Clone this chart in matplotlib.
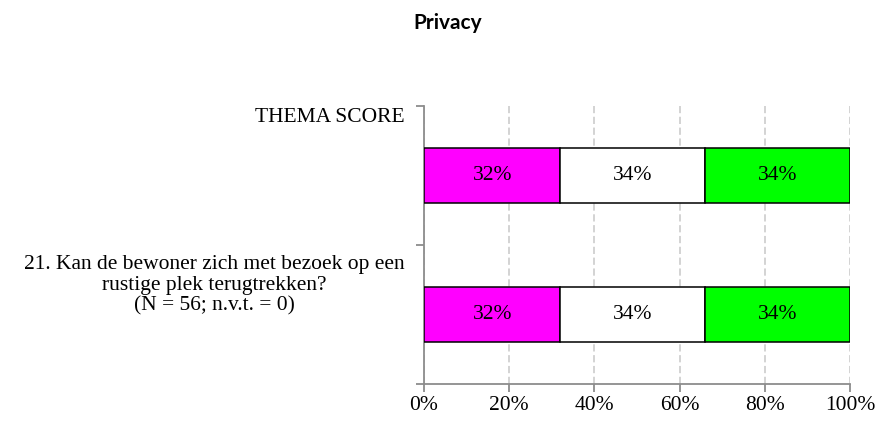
import matplotlib
matplotlib.use("Agg")
import matplotlib.pyplot as plt
from matplotlib.ticker import FixedLocator

title = "Privacy"
categories = ["THEMA SCORE",
              "21. Kan de bewoner zich met bezoek op een\nrustige plek terugtrekken?\n(N = 56; n.v.t. = 0)"]
series_names = ["negatief", "neutraal", "positief"]
series_values = [
    [32, 32],   # magenta
    [34, 34],   # white
    [34, 34],   # green
]
series_colors = ["#FF00FF", "#FFFFFF", "#00FF00"]
xtick_values = [0, 20, 40, 60, 80, 100]
xtick_labels = ["0%", "20%", "40%", "60%", "80%", "100%"]

serif = ["Liberation Serif", "DejaVu Serif"]
fs = 15.5

fig = plt.figure(figsize=(8.83, 4.21), dpi=100)
ax = fig.add_axes([424/883, 1-384/421, (850-424)/883, (384-106)/421])

ypos = list(range(len(categories)))
left = [0]*len(categories)
for vals, col in zip(series_values, series_colors):
    bars = ax.barh(ypos, vals, left=left, height=0.4, color=col,
                   edgecolor="black", linewidth=1.1, zorder=3)
    for b, v in zip(bars, vals):
        ax.text(b.get_x()+b.get_width()/2, b.get_y()+b.get_height()/2,
                f"{v}%", ha="center", va="center", fontsize=fs,
                family=serif, color="black", zorder=4)
    left = [l+v for l, v in zip(left, vals)]

ax.set_xlim(0, 100)
ax.set_ylim(len(categories)-0.5, -0.5)

ax.xaxis.set_major_locator(FixedLocator(xtick_values))
ax.set_xticklabels(xtick_labels, family=serif, fontsize=fs)
ax.yaxis.set_major_locator(FixedLocator([i-0.5 for i in range(len(categories)+1)]))
ax.set_yticklabels([])

for s in ["top", "right"]:
    ax.spines[s].set_visible(False)
for s in ["left", "bottom"]:
    ax.spines[s].set_color("#8c8c8c")
    ax.spines[s].set_linewidth(1.3)
ax.tick_params(axis="both", colors="#8c8c8c", width=1.3, length=6, direction="out")
ax.tick_params(axis="x", labelcolor="black", pad=3)

ax.grid(axis="x", color="#d0d0d0", linestyle=(0, (4, 2)), linewidth=1.3, zorder=0)
ax.grid(axis="y", visible=False)
ax.set_axisbelow(True)

# category labels (positioned as in the reference)
label_y = [-0.42, 0.79]
for cat, y in zip(categories, label_y):
    ax.annotate(cat, xy=(0, y), xycoords=("axes fraction", "data"),
                xytext=(-14, 0), textcoords="offset points",
                ha="right", va="center", multialignment="center",
                family=serif, fontsize=fs, linespacing=1.12)

fig.text(448/883, 1-23/421, title, ha="center", va="center",
         family=["Lato", "DejaVu Sans"], fontweight="bold", fontsize=15)

fig.savefig("out.png", dpi=100)
